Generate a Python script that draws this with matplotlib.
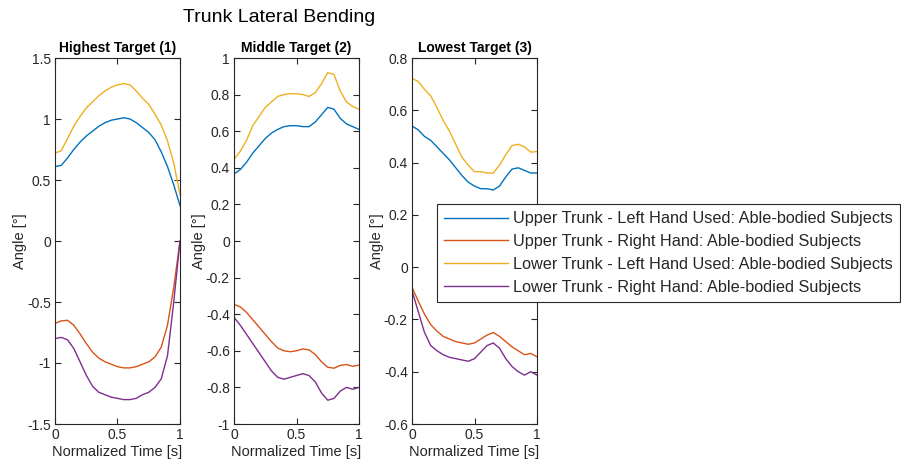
import numpy as np
import matplotlib
matplotlib.use("Agg")
import matplotlib.pyplot as plt
from matplotlib.ticker import FuncFormatter

plt.rcParams['font.family'] = ['Liberation Sans', 'DejaVu Sans']
plt.rcParams['axes.unicode_minus'] = False

# normalized time samples
t = np.linspace(0, 1, 21)

# Highest Target (1)
p1_upper_left = [0.61, 0.62, 0.68, 0.75, 0.81, 0.86, 0.90, 0.94, 0.97, 0.99, 1.00,
                 1.01, 1.00, 0.97, 0.93, 0.89, 0.83, 0.73, 0.61, 0.46, 0.29]
p1_upper_right = [-0.675, -0.655, -0.65, -0.69, -0.76, -0.84, -0.91, -0.96, -0.99, -1.01, -1.03,
                  -1.04, -1.04, -1.03, -1.01, -0.99, -0.95, -0.87, -0.69, -0.38, 0.0]
p1_lower_left = [0.72, 0.74, 0.84, 0.94, 1.02, 1.09, 1.14, 1.19, 1.23, 1.26, 1.28,
                 1.29, 1.28, 1.23, 1.17, 1.12, 1.04, 0.95, 0.82, 0.64, 0.38]
p1_lower_right = [-0.80, -0.79, -0.81, -0.88, -0.99, -1.10, -1.19, -1.24, -1.26, -1.28, -1.29,
                  -1.30, -1.30, -1.29, -1.26, -1.24, -1.20, -1.13, -0.94, -0.50, 0.0]

# Middle Target (2)
p2_upper_left = [0.366, 0.39, 0.43, 0.48, 0.52, 0.56, 0.59, 0.61, 0.625, 0.63, 0.63,
                 0.625, 0.625, 0.65, 0.69, 0.73, 0.72, 0.67, 0.64, 0.625, 0.61]
p2_upper_right = [-0.346, -0.36, -0.39, -0.43, -0.47, -0.51, -0.55, -0.585, -0.60, -0.605, -0.60,
                  -0.59, -0.595, -0.62, -0.66, -0.69, -0.695, -0.68, -0.675, -0.685, -0.678]
p2_lower_left = [0.446, 0.49, 0.55, 0.63, 0.68, 0.73, 0.76, 0.79, 0.80, 0.805, 0.805,
                 0.80, 0.79, 0.81, 0.86, 0.92, 0.91, 0.82, 0.76, 0.735, 0.72]
p2_lower_right = [-0.417, -0.46, -0.51, -0.56, -0.61, -0.66, -0.71, -0.745, -0.755, -0.745, -0.735,
                  -0.725, -0.735, -0.77, -0.83, -0.87, -0.86, -0.82, -0.80, -0.81, -0.80]

# Lowest Target (3)
p3_upper_left = [0.54, 0.525, 0.50, 0.485, 0.46, 0.435, 0.41, 0.38, 0.35, 0.325, 0.31,
                 0.30, 0.30, 0.295, 0.31, 0.345, 0.375, 0.38, 0.37, 0.36, 0.36]
p3_upper_right = [-0.077, -0.13, -0.18, -0.22, -0.245, -0.265, -0.275, -0.285, -0.29, -0.295, -0.29,
                  -0.275, -0.26, -0.25, -0.265, -0.285, -0.305, -0.32, -0.335, -0.33, -0.343]
p3_lower_left = [0.722, 0.71, 0.68, 0.655, 0.61, 0.56, 0.52, 0.47, 0.42, 0.39, 0.365,
                 0.365, 0.36, 0.36, 0.39, 0.43, 0.465, 0.47, 0.46, 0.44, 0.442]
p3_lower_right = [-0.09, -0.17, -0.25, -0.30, -0.32, -0.335, -0.345, -0.35, -0.355, -0.36, -0.35,
                  -0.325, -0.30, -0.29, -0.31, -0.35, -0.38, -0.40, -0.413, -0.40, -0.413]

titles = ["Highest Target (1)", "Middle Target (2)", "Lowest Target (3)"]
series_names = ["Upper Trunk - Left Hand Used: Able-bodied Subjects",
                "Upper Trunk - Right Hand: Able-bodied Subjects",
                "Lower Trunk - Left Hand Used: Able-bodied Subjects",
                "Lower Trunk - Right Hand: Able-bodied Subjects"]
colors = ["#0072BD", "#D95319", "#EDB120", "#7E2F8E"]
panels = [[p1_upper_left, p1_upper_right, p1_lower_left, p1_lower_right],
          [p2_upper_left, p2_upper_right, p2_lower_left, p2_lower_right],
          [p3_upper_left, p3_upper_right, p3_lower_left, p3_lower_right]]
ylims = [(-1.5, 1.5), (-1, 1), (-0.6, 0.8)]
yticks = [np.arange(-1.5, 1.51, 0.5), np.arange(-1, 1.01, 0.2), np.arange(-0.6, 0.81, 0.2)]

fig = plt.figure(figsize=(9.01, 4.63), dpi=100)
lefts = [55/901, 234/901, 412/901]
fmt = FuncFormatter(lambda v, p: "%g" % round(v, 2) if abs(v) > 1e-9 else "0")

lines = []
for i in range(3):
    ax = fig.add_axes([lefts[i], 39/463, 125/901, 366/463])
    for data, c in zip(panels[i], colors):
        l, = ax.plot(t, data, color=c, lw=1.0)
        if i == 0:
            lines.append(l)
    ax.set_xlim(0, 1)
    ax.set_ylim(*ylims[i])
    ax.set_xticks([0, 0.5, 1])
    ax.set_yticks(yticks[i])
    ax.xaxis.set_major_formatter(fmt)
    ax.yaxis.set_major_formatter(fmt)
    ax.tick_params(direction='in', top=True, right=True, labelsize=10, colors='#262626',
                   length=4, width=0.8, pad=3)
    for s in ax.spines.values():
        s.set_color('#262626')
        s.set_linewidth(0.8)
    ax.set_title(titles[i], fontsize=10, fontweight='bold', pad=4)
    ax.set_xlabel("Normalized Time [s]", fontsize=10.5, color='#262626', labelpad=2)
    ax.set_ylabel("Angle [°]", fontsize=10.5, color='#262626', labelpad=0)

fig.text(279/901, 1 - 18/463, "Trunk Lateral Bending", fontsize=14, ha='center', va='center')

leg = fig.legend(lines, series_names, loc='upper left', bbox_to_anchor=(437/901, 1 - 204/463),
                 fontsize=11.7, frameon=True, fancybox=False, edgecolor='#262626',
                 handlelength=3.9, handletextpad=0.35, borderpad=0.45, labelspacing=0.48,
                 borderaxespad=0)
leg.get_frame().set_linewidth(0.8)
leg.get_frame().set_alpha(1)
for txt in leg.get_texts():
    txt.set_color('#262626')

fig.savefig("out.png", dpi=100)
